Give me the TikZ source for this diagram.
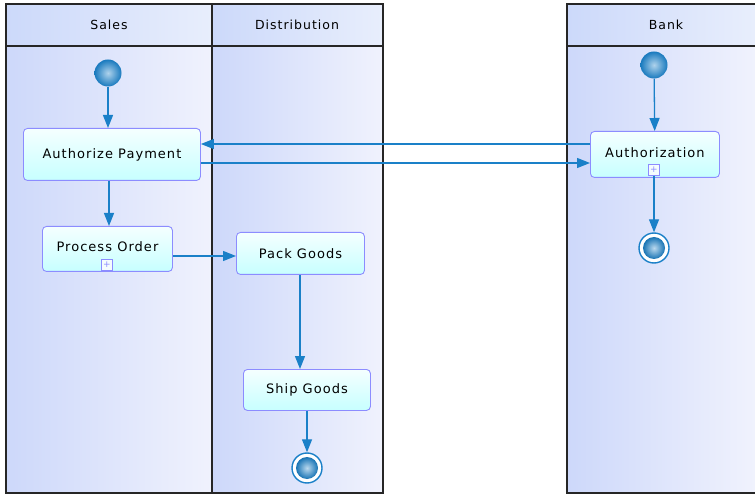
\documentclass[tikz,border=0pt]{standalone}
\usepackage{fontspec}
\setmainfont{DejaVu Sans}[LetterSpace=8]
\usetikzlibrary{arrows.meta}
\definecolor{flow}{HTML}{1A80C8}
\definecolor{nodeborder}{HTML}{8C8CFF}
\definecolor{lanedark}{HTML}{CDD8FA}
\definecolor{lanelight}{HTML}{F0F2FD}
\definecolor{headdark}{HTML}{CCD9FA}
\definecolor{headlight}{HTML}{E8EEFC}
\tikzset{
  x=1pt, y=-1pt,
  lanebody/.style={left color=lanedark, right color=lanelight, draw=none},
  headbox/.style={left color=headdark, right color=headlight, draw=none},
  laneline/.style={draw=black!85, line width=1.3pt},
  act/.style={draw=nodeborder, line width=0.9pt, rounded corners=4pt,
    top color=white!60!cyan!10, bottom color=cyan!22, shading angle=0,
    font=\fontsize{13}{15}\selectfont, inner sep=0pt, anchor=north west},
  startnode/.style={circle, minimum size=27pt, inner sep=0pt, draw=none,
    inner color=flow!35, outer color=flow!95!black},
  endnode/.style={circle, minimum size=30pt, inner sep=0pt, draw=flow, line width=1.4pt,
    fill=white},
  endcore/.style={circle, minimum size=22pt, inner sep=0pt, draw=none,
    inner color=flow!30, outer color=flow!90!black},
  flw/.style={draw=flow, line width=1.3pt, -{Triangle[length=13pt,width=10pt]}},
  plusbox/.style={draw=nodeborder, line width=0.7pt, fill=white!80!cyan!20, minimum size=11pt, inner sep=0pt,
    font=\fontsize{9}{9}\selectfont\color{nodeborder}},
  lanetitle/.style={font=\fontsize{12.5}{14}\selectfont, text=black}
}
\begin{document}
\begin{tikzpicture}
\useasboundingbox (0,0) rectangle (755,494);
% lane bodies
\fill[lanebody] (6,46) rectangle (212,493);
\fill[lanebody] (212,46) rectangle (383,493);
\fill[lanebody] (567,46) rectangle (755,493);
% headers
\fill[headbox] (6,4) rectangle (212,46);
\fill[headbox] (212,4) rectangle (383,46);
\fill[headbox] (567,4) rectangle (755,46);
% borders
\draw[laneline] (6,4) rectangle (383,493);
\draw[laneline] (212,4) -- (212,493);
\draw[laneline] (6,46) -- (383,46);
\draw[laneline] (755,4) -- (567,4) -- (567,493) -- (755,493);
\draw[laneline] (567,46) -- (755,46);
% lane titles
\node[lanetitle] (tsales) at (109,25) {Sales};
\node[lanetitle] (tdist) at (297,25) {Distribution};
\node[lanetitle] (tbank) at (666,25) {Bank};
% activities
\node[act, minimum width=177pt, minimum height=52pt] (auth) at (23,128) {Authorize Payment};
\node[act, minimum width=130pt, minimum height=45pt] (proc) at (42,226) {\raisebox{4pt}{Process Order}};
\node[act, minimum width=128pt, minimum height=42pt] (pack) at (236,232) {Pack Goods};
\node[act, minimum width=127pt, minimum height=41pt] (ship) at (243,369) {Ship Goods};
\node[act, minimum width=129pt, minimum height=46pt] (authz) at (590,131) {\raisebox{4pt}{Authorization}};
\node[plusbox] (plus1) at (107,265) {+};
\node[plusbox] (plus2) at (654,170) {+};
% start / end
\node[startnode] (s1) at (108,73) {};
\node[startnode] (s2) at (654,65) {};
\node[endnode] (e1r) at (307,468) {};
\node[endcore] (e1) at (307,468) {};
\node[endnode] (e2r) at (654,248) {};
\node[endcore] (e2) at (654,248) {};
% flows
\draw[flw] (s1.south -| 108,0) -- (auth.north -| 108,0);
\draw[flw] (auth.south -| 109,0) -- (proc.north -| 109,0);
\draw[flw] (proc.east |- 0,256) -- (pack.west |- 0,256);
\draw[flw] (pack.south -| 300,0) -- (ship.north -| 300,0);
\draw[flw] (ship.south -| 307,0) -- (e1r);
\draw[flw] (authz.west |- 0,144) -- (auth.east |- 0,144);
\draw[flw] (auth.east |- 0,163) -- (authz.west |- 0,163);
\draw[flw] (s2) -- (authz);
\draw[flw] (plus2) -- (e2r);
\end{tikzpicture}
\end{document}
